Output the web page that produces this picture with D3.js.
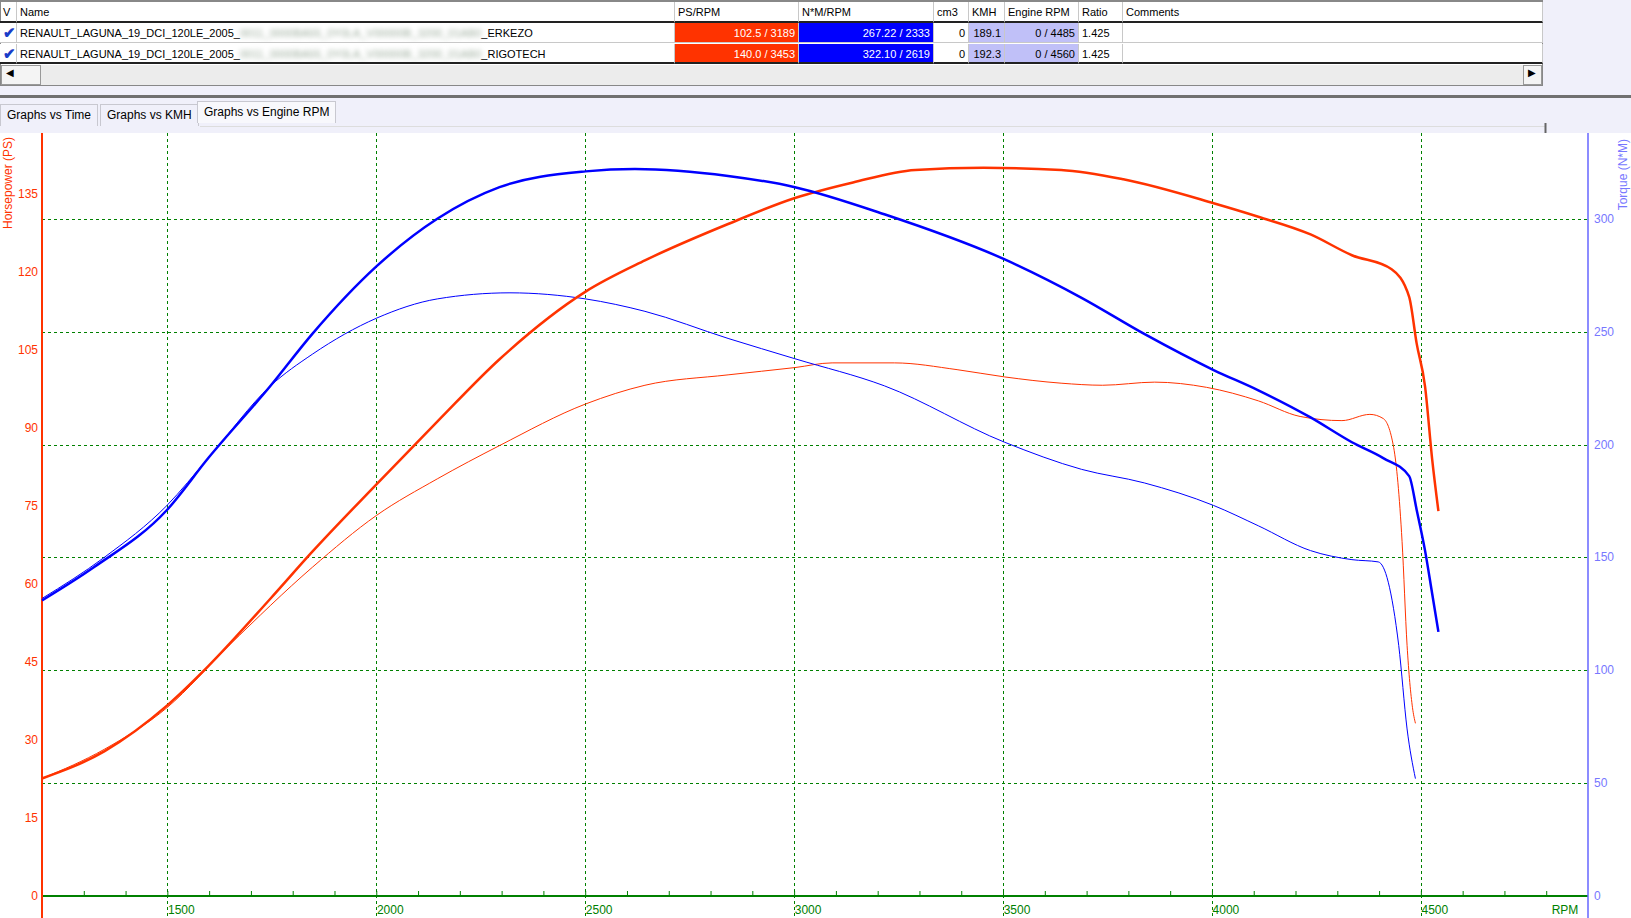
<!DOCTYPE html>
<html>
<head>
<meta charset="utf-8">
<script src="https://cdn.jsdelivr.net/npm/d3@7"></script>
<style>
  body { margin: 0; width: 1631px; height: 918px; background: #f0f0fa; font-family: "Liberation Sans", Arial, sans-serif; font-size: 11px; overflow: hidden; position: relative; }
  .abs { position: absolute; box-sizing: border-box; }
  .cell { position: absolute; box-sizing: border-box; height: 20px; line-height: 20px; padding: 0 3px; border-right: 1px solid #c8c8c8; white-space: nowrap; overflow: hidden; }
  .blur { color: #9a9; filter: blur(2.5px); }
  .tab { position: absolute; top: 104px; height: 21px; line-height: 21px; padding: 0 6px; border: 1px solid #c8c8d0; border-bottom: none; background: #f0f0fa; font-size: 12px; }
  svg { position: absolute; left: 0; top: 0; }
</style>
</head>
<body>
<div id="table"></div>
<svg id="chart" width="1631" height="918"></svg>
<script>
// table rows
var columns = ["V", "Name", "PS/RPM", "N*M/RPM", "cm3", "KMH", "Engine RPM", "Ratio", "Comments"];
var colEdges = [0, 17, 675, 799, 934, 969, 1005, 1079, 1123, 1543];
var runNames = ["ERKEZO", "RIGOTECH"];
var psPeak = ["102.5 / 3189", "140.0 / 3453"];
var nmPeak = ["267.22 / 2333", "322.10 / 2619"];
var cm3 = ["0", "0"];
var kmh = ["189.1", "192.3"];
var engineRpm = ["0 / 4485", "0 / 4560"];
var ratio = ["1.425", "1.425"];

// ERKEZO (thin lines)
var erkRpm  = [1200, 1349, 1499, 1648, 1847, 2001, 2146, 2295, 2501, 2643, 2842, 3002, 3091, 3240, 3390, 3504, 3639, 3738, 3863, 3987, 4111, 4211, 4311, 4378, 4410, 4435, 4455, 4467, 4480, 4487];
var erkPs   = [22.6, 28.2, 36.2, 48.2, 63.2, 73.2, 80.2, 86.6, 94.6, 98.2, 100.2, 101.6, 102.5, 102.5, 101.2, 99.8, 98.6, 98.2, 98.8, 97.8, 95.2, 92.2, 91.4, 92.6, 91.8, 86.2, 68.2, 48.2, 36.2, 33.2];
var erkTqRpm = [1200, 1349, 1499, 1598, 1747, 1847, 2001, 2146, 2320, 2501, 2643, 2842, 3002, 3216, 3504, 3688, 3838, 4004, 4111, 4236, 4335, 4398, 4422, 4447, 4467, 4487];
var erkTq   = [131.8, 150, 173, 194, 226, 240, 256, 264.5, 267.2, 264.5, 259, 247, 238, 226, 201, 189, 183, 173, 164, 153, 149, 148, 139, 111, 74, 52];

// RIGOTECH (thick lines)
var rigRpm  = [1200, 1349, 1499, 1598, 1747, 1847, 2001, 2146, 2295, 2501, 2643, 2842, 3002, 3141, 3290, 3453, 3639, 3788, 4004, 4111, 4236, 4335, 4430, 4472, 4490, 4510, 4527, 4542];
var rigPs   = [22.6, 27.8, 36.6, 44.2, 57.2, 66.2, 79.2, 91.2, 103.2, 116.2, 122.2, 129.2, 134.2, 137.2, 139.6, 140.0, 139.6, 137.8, 133.2, 130.6, 127.2, 123.2, 120.5, 115.2, 106.2, 98, 84, 74];
var rigTqRpm = [1200, 1324, 1499, 1598, 1747, 1847, 2001, 2146, 2295, 2501, 2619, 2842, 3002, 3216, 3504, 3688, 3838, 4004, 4111, 4236, 4335, 4410, 4472, 4490, 4510, 4527, 4542];
var rigTq   = [130.9, 145.6, 171, 194, 226, 249, 279, 300, 314, 321, 322.1, 319, 314, 302, 282, 265, 249, 233, 224, 212, 201, 194, 186, 171, 153, 134, 117];

var rpmTicks = [1500, 2000, 2500, 3000, 3500, 4000, 4500];
var psTicks = [0, 15, 30, 45, 60, 75, 90, 105, 120, 135];
var tqTicks = [0, 50, 100, 150, 200, 250, 300];

// ---- grid table ----
var table = d3.select("#table");
table.append("div").attr("class", "abs")
  .style("left", "0px").style("top", "0px").style("width", "1543px").style("height", "86px")
  .style("background", "#fff").style("border", "1px solid #888").style("border-top", "2px solid #888");
var rowsTop = [2, 23, 44];
columns.forEach(function(c, i) {
  table.append("div").attr("class", "cell")
    .style("left", colEdges[i] + "px").style("top", rowsTop[0] + "px")
    .style("width", (colEdges[i + 1] - colEdges[i]) + "px")
    .style("border-bottom", "2px solid #222").style("height", "21px")
    .text(c);
});
runNames.forEach(function(n, r) {
  var rowTop = rowsTop[r + 1];
  var vals = ["", "", psPeak[r], nmPeak[r], cm3[r], kmh[r], engineRpm[r], ratio[r], ""];
  var bgs = ["#fff", "#fff", "#ff3300", "#0000ff", "#fff", "#c0c0f8", "#c0c0f8", "#fff", "#fff"];
  var fgs = ["#000", "#000", "#fff", "#fff", "#000", "#000", "#000", "#000", "#000"];
  vals.forEach(function(v, i) {
    var cell = table.append("div").attr("class", "cell")
      .style("left", colEdges[i] + "px").style("top", rowTop + "px")
      .style("width", (colEdges[i + 1] - colEdges[i]) + "px")
      .style("background", bgs[i]).style("color", fgs[i])
      .style("text-align", i >= 2 && i <= 6 ? "right" : "left")
      .style("border-bottom", r === 0 ? "1px solid #c8c8c8" : "2px solid #222");
    if (i === 0) cell.html('<span style="color:#1a3cc8;font-weight:bold;font-size:15px">&#10004;</span>');
    else if (i === 1) cell.html('RENAULT_LAGUNA_19_DCI_120LE_2005_<span class="blur">0011_0000BA55_0Y0LA_V00000B_3200_01AB0</span>_' + n);
    else cell.text(v);
  });
});
// scrollbar
table.append("div").attr("class", "abs").style("left", "1px").style("top", "65px").style("width", "1541px").style("height", "20px").style("background", "#ececec");
table.append("div").attr("class", "abs").style("left", "1px").style("top", "65px").style("width", "40px").style("height", "20px").style("background", "#f4f4f4").style("border", "1px solid #999")
  .html('<span style="position:absolute;left:4px;top:1px;font-size:10px">&#9664;</span>');
table.append("div").attr("class", "abs").style("left", "1523px").style("top", "65px").style("width", "19px").style("height", "20px").style("background", "#f4f4f4").style("border", "1px solid #999")
  .html('<span style="position:absolute;left:4px;top:1px;font-size:10px">&#9654;</span>');
table.append("div").attr("class", "abs").style("left", "0px").style("top", "95px").style("width", "1631px").style("height", "3px").style("background", "#707070");
// tabs
var tabs = ["Graphs vs Time", "Graphs vs KMH", "Graphs vs Engine RPM"];
var tabLeft = [0, 100, 197];
tabs.forEach(function(t, i) {
  table.append("div").attr("class", "tab").style("left", tabLeft[i] + "px")
    .style("top", i === 2 ? "101px" : "104px").style("background", i === 2 ? "#f8f8fc" : "#f0f0fa")
    .text(t);
});

// ---- chart ----
var plotL = 42, plotR = 1588, plotT = 133, plotB = 896;
var svg = d3.select("#chart");
svg.append("rect").attr("x", 0).attr("y", plotT).attr("width", 1631).attr("height", 918 - plotT).attr("fill", "#fff");
svg.append("line").attr("x1", 200).attr("x2", 1545).attr("y1", 126.5).attr("y2", 126.5).attr("stroke", "#ddd");
svg.append("line").attr("x1", 1545.5).attr("x2", 1545.5).attr("y1", 123).attr("y2", 133).attr("stroke", "#666").attr("stroke-width", 2);

var x = d3.scaleLinear().domain([1200, 4900]).range([plotL, plotR]);
var yPs = d3.scaleLinear().domain([0, 146.7]).range([plotB, plotT]);
var yTq = d3.scaleLinear().domain([0, 338]).range([plotB, plotT]);
var green = "#008000";

// grid
svg.append("g").selectAll("line").data(rpmTicks).join("line")
  .attr("x1", d => Math.round(x(d)) + 0.5).attr("x2", d => Math.round(x(d)) + 0.5)
  .attr("y1", plotT).attr("y2", 918)
  .attr("stroke", green).attr("stroke-dasharray", "3,3");
svg.append("g").selectAll("line").data(tqTicks.slice(1)).join("line")
  .attr("x1", plotL).attr("x2", plotR)
  .attr("y1", d => Math.round(yTq(d)) + 0.5).attr("y2", d => Math.round(yTq(d)) + 0.5)
  .attr("stroke", green).attr("stroke-dasharray", "3,3");

// x axis
var xAxis = svg.append("g").attr("transform", "translate(0," + plotB + ")")
  .call(d3.axisBottom(x).tickValues(d3.range(1300, 4900, 100)).tickSize(-5).tickFormat(""));
xAxis.select(".domain").attr("stroke", green).attr("stroke-width", 2).attr("d", "M" + plotL + ",0H" + plotR);
xAxis.selectAll(".tick line").attr("stroke", green);
svg.append("g").selectAll("text").data(rpmTicks).join("text")
  .attr("x", d => x(d) + 14).attr("y", plotB + 18).attr("text-anchor", "middle")
  .attr("fill", green).attr("font-size", 12).text(d => d);
svg.append("text").attr("x", 1565).attr("y", plotB + 18).attr("text-anchor", "middle")
  .attr("fill", green).attr("font-size", 12).text("RPM");

// left axis
svg.append("line").attr("x1", plotL).attr("x2", plotL).attr("y1", plotT).attr("y2", 918).attr("stroke", "#ff3300").attr("stroke-width", 2);
svg.append("g").selectAll("text").data(psTicks).join("text")
  .attr("x", plotL - 4).attr("y", d => yPs(d) + 4).attr("text-anchor", "end")
  .attr("fill", "#ff3300").attr("font-size", 12).text(d => d);
svg.append("text").attr("transform", "translate(12," + (plotT + 4) + ") rotate(-90)")
  .attr("text-anchor", "end").attr("fill", "#ff3300").attr("font-size", 12).text("Horsepower (PS)");

// right axis
svg.append("line").attr("x1", plotR).attr("x2", plotR).attr("y1", plotT).attr("y2", 918).attr("stroke", "#6666ff").attr("stroke-width", 1.5);
svg.append("g").selectAll("text").data(tqTicks).join("text")
  .attr("x", plotR + 6).attr("y", d => yTq(d) + 4).attr("text-anchor", "start")
  .attr("fill", "#7777ff").attr("font-size", 12).text(d => d);
svg.append("text").attr("transform", "translate(1627," + (plotT + 6) + ") rotate(-90)")
  .attr("text-anchor", "end").attr("fill", "#7777ff").attr("font-size", 12).text("Torque (N*M)");

// curves
function draw(xs, ys, yScale, color, width) {
  var pts = xs.map((v, i) => [v, ys[i]]);
  svg.append("path").datum(pts)
    .attr("d", d3.line().x(d => x(d[0])).y(d => yScale(d[1])).curve(d3.curveMonotoneX))
    .attr("fill", "none").attr("stroke", color).attr("stroke-width", width);
}
draw(erkRpm, erkPs, yPs, "#ff3300", 1);
draw(erkTqRpm, erkTq, yTq, "#0000ff", 1);
draw(rigRpm, rigPs, yPs, "#ff3300", 2.5);
draw(rigTqRpm, rigTq, yTq, "#0000ff", 2.5);
</script>
</body>
</html>
